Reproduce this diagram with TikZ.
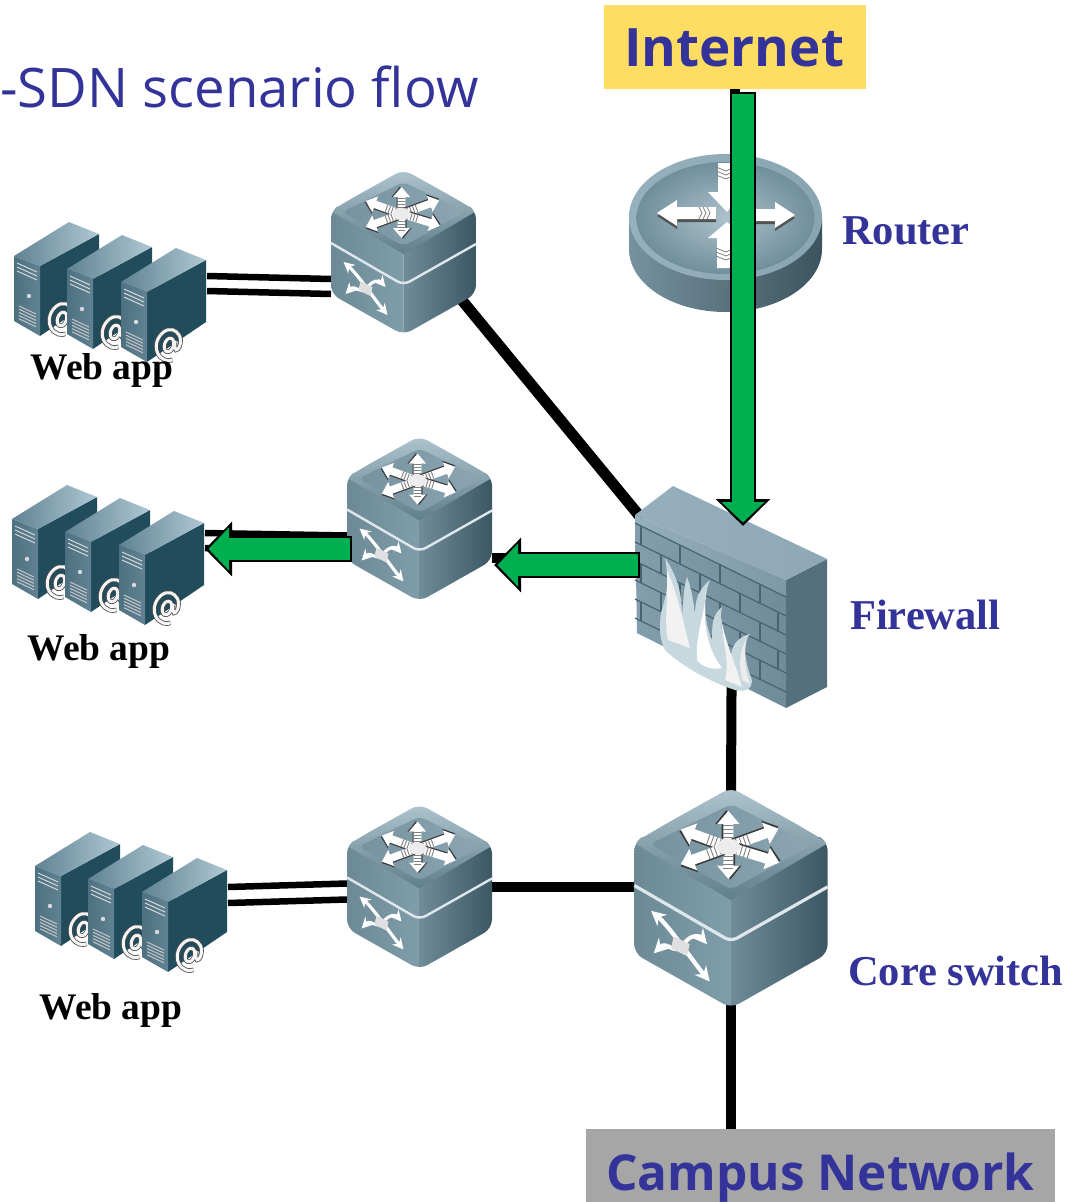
\documentclass[tikz,border=0pt]{standalone}
\usepackage{fontspec}
\setmainfont{Liberation Serif}
\newfontfamily\handfont{Open Sans}
\usetikzlibrary{arrows.meta,calc}
\definecolor{labelblue}{HTML}{333399}
\definecolor{boxyellow}{HTML}{FFDD62}
\definecolor{boxgrey}{HTML}{A6A6A6}
\definecolor{flowgreen}{HTML}{00B050}
\definecolor{swA}{HTML}{6C8996}\definecolor{swB}{HTML}{809DAA}\definecolor{swC}{HTML}{708C99}\definecolor{swD}{HTML}{3C5663}
\definecolor{swE}{HTML}{B0C6D0}\definecolor{swF}{HTML}{607E8C}\definecolor{swG}{HTML}{7692A0}\definecolor{swH}{HTML}{8CA6B2}\definecolor{swW}{HTML}{DEE8EC}
\definecolor{srD}{HTML}{214C5C}\definecolor{srA}{HTML}{4E7182}\definecolor{srB}{HTML}{608292}\definecolor{srC}{HTML}{B0C8D4}
\definecolor{rA}{HTML}{76929E}\definecolor{rB}{HTML}{3C5460}\definecolor{rC}{HTML}{96B0BC}\definecolor{rD}{HTML}{8AA5B2}\definecolor{rE}{HTML}{ACC2CC}\definecolor{rF}{HTML}{708E9C}
\definecolor{fD}{HTML}{54707E}\definecolor{fA}{HTML}{829EAC}\definecolor{fB}{HTML}{708C9A}\definecolor{fC}{HTML}{96AFBC}\definecolor{fE}{HTML}{8EA8B6}\definecolor{fF}{HTML}{7D98A6}\definecolor{fL}{HTML}{486472}\definecolor{fG}{HTML}{C8D8DF}
\tikzset{
  hit/.style={inner sep=0pt,outer sep=0pt,minimum width=#1},
  link/.style={draw=black,line width=10pt},
  thinlink/.style={draw=black,line width=6.5pt},
  devlabel/.style={font=\fontsize{42.5}{42.5}\selectfont\bfseries,text=labelblue,inner sep=0pt,anchor=west},
  applabel/.style={font=\fontsize{37.5}{38}\selectfont\bfseries,text=black,inner sep=0pt,anchor=west},
  handlabel/.style={font=\handfont\fontsize{53}{53}\selectfont\bfseries,text=labelblue,inner sep=0pt},
  flowunder/.style={draw=black,line width=26pt,-{Triangle[length=27pt,width=53pt]}},
  flowover/.style={draw=flowgreen,line width=21.5pt,shorten <=2pt,shorten >=3.5pt,-{Triangle[length=20.5pt,width=42pt]}},
}
% one arm of the six-arrow star on a switch's top face
\newcommand\armicon[2]{% angle, length
  \begin{scope}[rotate=#1]
    \fill[black!55!gray] (4,-5) -- (#2-10,-5) -- (#2-10,-10) -- (#2+.5,-1.5) -- (#2-10,7) -- (#2-10,3) -- (4,3) -- cycle;
    \fill[white] (4,-3.8) -- (#2-10,-3.8) -- (#2-10,-8.5) -- (#2,0) -- (#2-10,8.5) -- (#2-10,3.8) -- (4,3.8) -- cycle;
    \foreach \q in {7,10,13,16}{\draw[gray,line width=.9pt] (\q,-3.8) -- (\q,3.8);}
  \end{scope}}
% a multilayer switch drawn round its centre
\newcommand\swicon[3]{%
\begin{scope}[shift={(#1,#2)},scale=#3]
  \pgfmathsetlengthmacro\tipsize{11*#3}
  \begin{scope}
    \clip[rounded corners=9pt] (0,-82.5) -- (72.5,-42) -- (72.5,42) -- (0,83) -- (-72.5,42) -- (-72.5,-42) -- cycle;
    \shade[left color=swA, right color=swB] (-73,-50) -- (0,0) -- (0,84) -- (-73,84) -- cycle;
    \shade[left color=swC, right color=swD] (73,-50) -- (0,0) -- (0,84) -- (73,84) -- cycle;
    \shade[top color=swE, bottom color=swF] (0,-84) -- (73,-41) -- (0,2) -- (-73,-41) -- cycle;
  \end{scope}
  \shade[rounded corners=6pt,left color=swG, right color=swH] (0,-70) -- (61,-40) -- (0,-6) -- (-61,-40) -- cycle;
  \draw[swW,line width=2.4*#3 pt,rounded corners=7pt] (-72.5,-9) -- (0,33) -- (72.5,-8);
  \begin{scope}[shift={(-2,-38)}]
    \armicon{90}{27}
    \armicon{-90}{24}
    \armicon{160}{38}
    \armicon{20}{40}
    \armicon{-160}{38}
    \armicon{-17}{40}
    \fill[white!85!gray] (0,0) ellipse (9 and 6);
  \end{scope}
  \draw[white,line width=3.2*#3 pt,{Stealth[length=\tipsize,width=\tipsize]}-{Stealth[length=\tipsize,width=\tipsize]}] (-60,10) .. controls (-46,22) and (-30,46) .. (-16,63);
  \draw[white,line width=3*#3 pt,{Stealth[length=\tipsize,width=\tipsize]}-{Stealth[length=\tipsize,width=\tipsize]}] (-58,42) .. controls (-48,32) and (-42,44) .. (-36,36) .. controls (-32,28) and (-24,28) .. (-18,35);
  \fill[white!75!gray] (-43,29) -- (-31,35) -- (-33,44) -- (-45,38) -- cycle;
\end{scope}}
% one tower server, coordinates of the front tower of the top group
\newcommand\towericon{%
  \fill[srD] (148,292) -- (207,260) -- (207,322) -- (148,362) -- cycle;
  \shade[left color=srA,right color=srB] (122,282) -- (148,292) -- (148,362) -- (122,347) -- cycle;
  \shade[left color=srB,right color=srC] (122,282) -- (177,248) -- (207,260) -- (148,292) -- cycle;
  \foreach \q in {0,4,8}{\draw[white!75!gray,line width=.9pt] (125,{289+\q}) -- (145,{298+\q});}
  \fill[white!70!gray] (137,322) circle (2.2);
  \foreach \q in {0,3.2,6.4,9.6,12.8}{\draw[white!55!gray,line width=1pt] (127,{332+\q}) -- (144,{340+\q});}
  \begin{scope}[shift={(170,345)},rotate=-18]
    \foreach \cc/\w in {{black!40!gray}/4.6,{white!92!gray}/3}{
      \draw[\cc,line width=\w pt] (0,0) ellipse (4.5 and 7);
      \draw[\cc,line width=\w pt] (4.5,-6) .. controls (7,6) and (10,3) .. (10.5,-2) .. controls (10.5,-12) and (4,-15.5) .. (-1,-15.5) .. controls (-8,-15.5) and (-12.5,-7) .. (-12.5,0) .. controls (-12.5,9) and (-6,15.5) .. (1,15.5) .. controls (4,15.5) and (6,14.5) .. (8,13);
    }
  \end{scope}}
\newcommand\srvicon[2]{%
\begin{scope}[shift={(#1,#2)}]
  \foreach \dx/\dy in {-107/-26,-54/-13,0/0}{\begin{scope}[shift={(\dx,\dy)}]\towericon\end{scope}}
\end{scope}}
\newcommand\routericon{%
  \shade[left color=rA,right color=rB] (629,217) -- (629,249) arc[start angle=180,end angle=0,x radius=96.5,y radius=63] -- (822,217) -- cycle;
  \shade[left color=rC,right color=rD] (725.5,217) ellipse (96.5 and 63);
  \shade[inner color=rE,outer color=rF] (725.5,218) ellipse (89 and 56);
  \foreach \o/\cc in {3/{black!35!gray},0/white}{
  \fill[\cc,shift={(0,\o)}] (657,213) -- (677,200) -- (677,207) -- (716,207) -- (716,219) -- (677,219) -- (677,226) -- cycle;
  \fill[\cc,shift={(0,\o)}] (795,215) -- (775,202) -- (775,209) -- (738,209) -- (738,221) -- (775,221) -- (775,228) -- cycle;}
  \fill[white] (718,163) -- (733,163) -- (733,190) -- (745,190) -- (727,212) -- (708,192) -- (718,192) -- cycle;
  \fill[white] (727,222) -- (746,238) -- (735,238) -- (735,268) -- (717,268) -- (717,238) -- (708,238) -- cycle;
  \foreach \q in {0,4,8}{\draw[gray,line width=.8pt] (699+\q,207) -- (702+\q,213) -- (699+\q,219);}
  \foreach \q in {0,4,8}{\draw[gray,line width=.8pt] (716,167+\q) -- (726,171+\q) -- (735,167+\q);}
  \foreach \q in {0,4,8}{\draw[gray,line width=.8pt] (716,248+\q) -- (726,252+\q) -- (735,248+\q);}
}
\newcommand\firewallicon{%
  \fill[fD] (786,580) -- (827,559) -- (827,687) -- (786,708) -- cycle;
  \shade[left color=fA,right color=fB] (635,515) -- (786,588) -- (786,708) -- (637,633) -- cycle;
  \shade[left color=fC,right color=fE] (635,515) -- (673,486) -- (827,559) -- (786,580) -- cycle;
  \shade[left color=fC,right color=fF] (635,515) -- (786,580) -- (786,597) -- (635,523) -- cycle;
  \foreach \q in {0,19,38,57,76,95}{\draw[fL,line width=1.2pt] (635,{523+\q}) -- (786,{597+\q});}
  \foreach \xa/\ya in {641/526,680/545,720/565,760/585,661/555,700/574,740/594,778/613,641/564,680/583,720/603,760/623,661/593,700/612,740/632,778/651,641/602,760/661}{
    \draw[fL,line width=1.2pt] (\xa,\ya) -- (\xa,\ya+19);}
  \fill[fG] (660,625) .. controls (660,600) and (672,600) .. (665,558) .. controls (680,580) and (682,600) .. (682,615) .. controls (684,600) and (683,590) .. (687,577) .. controls (692,590) and (694,605) .. (695,615) .. controls (695,600) and (698,590) .. (710,580) .. controls (702,600) and (705,625) .. (712,640) .. controls (712,625) and (712,615) .. (722,607) .. controls (718,625) and (725,645) .. (731,655) .. controls (732,645) and (738,637) .. (750,634) .. controls (740,645) and (748,670) .. (752,680) .. controls (752,690) and (745,692) .. (735,690) .. controls (710,682) and (680,665) .. (665,650) .. controls (660,640) and (660,632) .. (660,625) -- cycle;
  \fill[white!90!gray] (668,640) .. controls (664,625) and (668,600) .. (667,570) .. controls (678,595) and (684,625) .. (690,648) -- cycle;
  \fill[white] (697,660) .. controls (695,635) and (706,610) .. (706,590) .. controls (702,625) and (708,650) .. (722,668) .. controls (712,670) and (702,667) .. (697,660) -- cycle;
  \fill[white!90!gray] (725,680) .. controls (730,660) and (722,640) .. (721,618) .. controls (726,645) and (736,665) .. (742,687) -- cycle;
  \fill[white!85!gray] (742,680) .. controls (738,660) and (741,648) .. (747,638) .. controls (743,655) and (745,670) .. (750,684) -- cycle;
}
\begin{document}
\begin{tikzpicture}[x=1pt,y=-1pt]
\useasboundingbox (0,0) rectangle (1065,1202);
% labelled boxes
\node[fill=boxyellow,inner sep=0pt,minimum width=262pt,minimum height=84pt] (internet) at (735,47) {};
\node[fill=boxgrey,inner sep=0pt,minimum width=469pt,minimum height=73pt] (campus) at (820.5,1165.5) {};
% device places
\node[hit=145pt,minimum height=158pt] (sw1) at (403.5,252) {};
\node[hit=145pt,minimum height=158pt] (sw2) at (419.5,518.5) {};
\node[hit=145pt,minimum height=158pt] (sw3) at (419.5,886.5) {};
\node[hit=193pt,minimum height=211pt] (core) at (731,897.5) {};
\node[hit=192pt,minimum height=222pt] (fw) at (732,597) {};
\node[hit=193pt,minimum height=158pt] (router) at (725.5,233) {};
\node[hit=193pt,minimum height=140pt] (srv1) at (110.5,292) {};
\node[hit=193pt,minimum height=140pt] (srv2) at (108.5,555) {};
\node[hit=193pt,minimum height=140pt] (srv3) at (131.5,902) {};
% plain links
\draw[link] (internet.south) -- (internet.south |- router.center);
\draw[thinlink] ([shift={(0,-16)}]srv1.east) -- ([shift={(0,27)}]sw1.west);
\draw[thinlink] ([shift={(0,-1)}]srv1.east) -- ([shift={(0,42)}]sw1.west);
\draw[thinlink] ([shift={(0,-22)}]srv2.east) -- ([shift={(0,17)}]sw2.west);
\draw[thinlink] ([shift={(0,-7)}]srv2.east) -- ([shift={(0,32)}]sw2.west);
\draw[thinlink] ([shift={(0,-15)}]srv3.east) -- ([shift={(0,-3)}]sw3.west);
\draw[thinlink] ([shift={(0,1)}]srv3.east) -- ([shift={(0,13)}]sw3.west);
\draw[link,line width=11pt] ([shift={(50,38)}]sw1.center) -- ([shift={(-90,-78)}]fw.center);
\draw[link] ([shift={(0,39.5)}]sw2.east) -- ([shift={(0,-39)}]fw.west);
\draw[link] (sw3.east) -- (sw3.east -| core.west);
\draw[link] (fw.center) -- (core.north);
\draw[link] (core.south) -- (campus.north -| core.south);
% devices
\srvicon{-1}{0}
\srvicon{-3}{263}
\srvicon{20}{610}
\swicon{403.5}{252}{1}
\swicon{419.5}{518.5}{1}
\swicon{419.5}{886.5}{1}
\swicon{731}{897.5}{1.333}
\routericon
\firewallicon
% flow arrows
\draw[flowunder] ([shift={(8,3)}]internet.south) -- ([shift={(11,40)}]fw.north);
\draw[flowover] ([shift={(8,3)}]internet.south) -- ([shift={(11,40)}]fw.north);
\draw[flowunder] ([shift={(4,-32)}]fw.west) -- ([shift={(2,46.5)}]sw2.east);
\draw[flowover] ([shift={(4,-32)}]fw.west) -- ([shift={(2,46.5)}]sw2.east);
\draw[flowunder] ([shift={(5,30.5)}]sw2.west) -- ([shift={(0,-6)}]srv2.east);
\draw[flowover] ([shift={(5,30.5)}]sw2.west) -- ([shift={(0,-6)}]srv2.east);
% texts
\node[handlabel,anchor=base west] (internettext) at (624,66) {Internet};
\node[handlabel,anchor=base west,font=\handfont\fontsize{49.5}{50}\selectfont\bfseries] (campustext) at (606,1190) {Campus Network};
\node[handlabel,anchor=base west,font=\handfont\fontsize{54.5}{55}\selectfont] (title) at (0,107) {-SDN scenario flow};
\node[devlabel] (lrouter) at (842,231) {Router};
\node[devlabel] (lfw) at (850,615) {Firewall};
\node[devlabel] (lcore) at (848,971) {Core switch};
\node[applabel] (lapp1) at (30.5,370) {Web app};
\node[applabel] (lapp2) at (27.5,651) {Web app};
\node[applabel] (lapp3) at (39.5,1010) {Web app};
\end{tikzpicture}
\end{document}
